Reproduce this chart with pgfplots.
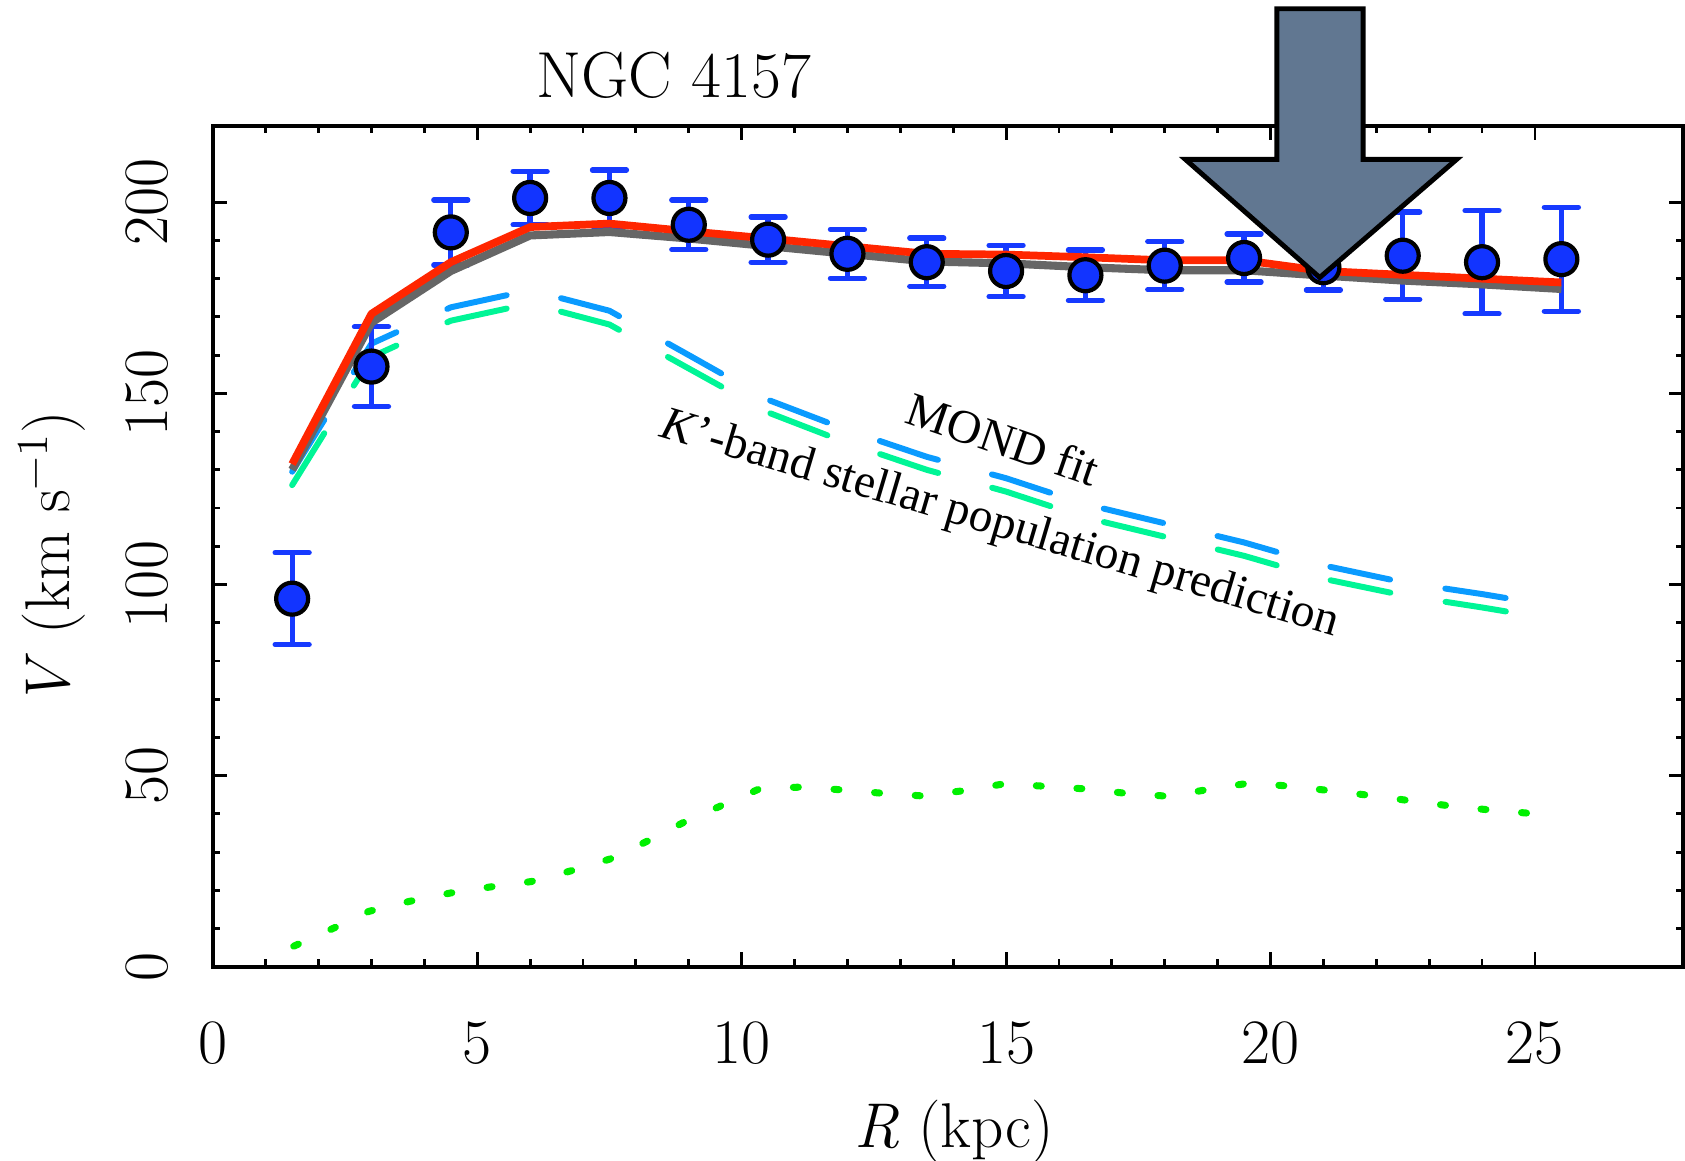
\documentclass[border=0pt]{standalone}
\usepackage{fontspec}
\usepackage{pgfplots}
\pgfplotsset{compat=1.18}
\newfontfamily\annfont{Liberation Serif}
\definecolor{ptblue}{RGB}{18,52,255}
\definecolor{errblue}{RGB}{22,58,255}
\definecolor{mondred}{RGB}{255,38,0}
\definecolor{newtgray}{RGB}{102,102,102}
\definecolor{dashblue}{RGB}{10,155,255}
\definecolor{dashgreen}{RGB}{0,245,150}
\definecolor{dotgreen}{RGB}{0,240,0}
\definecolor{arrowfill}{RGB}{97,119,145}
\begin{document}
\begin{tikzpicture}
\begin{axis}[
  scale only axis, width=147mm, height=84.1mm,
  xmin=0, xmax=27.8, ymin=0, ymax=220,
  axis line style={line width=1.1pt},
  xtick={0,5,...,25}, minor x tick num=4,
  ytick={0,50,...,200}, minor y tick num=4,
  major tick length=1.45mm, minor tick length=0.75mm,
  tick style={black, line width=0.8pt},
  tick align=inside,
  /pgf/number format/assume math mode=true,
  tick label style={font=\fontsize{18}{20}\selectfont},
  xticklabel style={anchor=north, inner sep=0pt},
  xticklabel shift=5.4mm,
  yticklabel style={rotate=90, anchor=south, inner sep=0pt},
  yticklabel shift=4.4mm,
  xlabel={\textit{R} (kpc)},
  ylabel={\textit{V} (km s\textsuperscript{−1})},
  every axis x label/.style={at={(axis description cs:0.504,0)}, anchor=base, yshift=-18.05mm, inner sep=0pt, font=\fontsize{18}{20}\selectfont},
  every axis y label/.style={at={(axis description cs:0,0.485)}, xshift=-14.3mm, rotate=90, anchor=base, inner sep=0pt, font=\fontsize{18}{20}\selectfont},
  clip=false,
]
% K'-band prediction (two dashed curves)
\addplot[dashblue, line width=1.7pt, line cap=round, dash pattern=on 6.1mm off 5.6mm] coordinates {
 (1.5,129.5) (3,163) (4.5,172.5) (6,177) (7.5,171.6) (9,160) (10.5,148.3) (12,140.4) (13.5,133.4) (15,127.8) (16.5,121) (18,116) (19.5,111) (21,105) (22.5,100.6) (24,97.5) (25.3,94.5)};
\addplot[dashgreen, line width=1.7pt, line cap=round, dash pattern=on 6.1mm off 5.6mm] coordinates {
 (1.5,126) (3,159.5) (4.5,169) (6,173.5) (7.5,168) (9,156.5) (10.5,145) (12,137) (13.5,130) (15,124.3) (16.5,117.5) (18,112.5) (19.5,107.5) (21,101.5) (22.5,97.2) (24,94) (25.3,91)};
% dotted gas curve
\addplot[dotgreen, line width=2pt, line cap=round, dash pattern=on 0.5mm off 3.57mm] coordinates {
 (1.53,5.4) (2.25,9.9) (2.95,14.5) (3.71,17.1) (4.49,19.3) (5.25,20.9) (6.02,22.3) (6.77,25.1) (7.51,28.2) (8.22,32.9) (8.92,37.9) (9.64,42.3) (10.36,46.7) (11.12,47.0) (11.89,46.3) (12.66,45.4) (13.42,44.7) (14.21,46.1) (14.98,47.9) (15.76,47.2) (16.54,46.5) (17.32,45.3) (18.09,44.6) (18.86,46.5) (19.62,48.1) (20.40,47.2) (21.18,46.0) (21.96,44.7) (22.72,43.3) (23.50,41.9) (24.25,40.9) (25.04,40.0) (25.3,39.8)};
% data
\addplot[only marks, mark=*, mark size=1.6mm, mark options={fill=ptblue, draw=black, line width=1.2pt},
  error bars/.cd, y dir=both, y explicit,
  error bar style={errblue, line width=1.5pt},
  error mark options={errblue, line width=1.5pt, mark size=1.7mm, rotate=90, line cap=round}]
 coordinates {
 (1.5,96.3) +- (0,12)
 (3,157) +- (0,10.4)
 (4.5,192.1) +- (0,8.5)
 (6,201.1) +- (0,7)
 (7.5,201.1) +- (0,7.3)
 (9,194.1) +- (0,6.5)
 (10.5,190.2) +- (0,5.9)
 (12,186.5) +- (0,6.4)
 (13.5,184.3) +- (0,6.3)
 (15,182) +- (0,6.7)
 (16.5,180.9) +- (0,6.6)
 (18,183.4) +- (0,6.3)
 (19.5,185.4) +- (0,6.3)
 (21,183) +- (0,6)
 (22.5,186) +- (0,11.4)
 (24,184.3) +- (0,13.5)
 (25.5,185.1) +- (0,13.6)
 };
% Newtonian total (gray) and MOND fit (red)
\addplot[newtgray, line width=2.3pt, line join=round] coordinates {
 (1.5,130) (3,168.5) (4.5,182) (6,191.3) (7.5,192.2) (9,190.5) (10.5,188.5) (12,186.5) (13.5,184.5) (15,184) (16.5,183) (18,182.2) (19.5,182.2) (21,180.8) (22.5,179.5) (24,178.5) (25.5,177.3)};
\addplot[mondred, line width=2.2pt, line join=round] coordinates {
 (1.5,131.5) (3,170.8) (4.5,184.3) (6,193.5) (7.5,194.4) (9,192.4) (10.5,190.5) (12,188.5) (13.5,186.5) (15,186.3) (16.5,185.6) (18,184.8) (19.5,184.8) (21,182) (22.5,181) (24,180) (25.5,179)};
% annotations
\node[rotate=-19, font=\annfont\fontsize{13.5}{15}\selectfont] at (axis cs:14.95,138.0) {MOND fit};
\node[rotate=-16.5, font=\annfont\fontsize{13.5}{15}\selectfont] at (axis cs:14.88,115.5) {\textit{K}’-band stellar population prediction};
\node[anchor=base, font=\fontsize{18.5}{20}\selectfont] at (axis cs:8.72,227.5) {NGC 4157};
% arrow corner coordinates
\coordinate (A1) at (axis cs:20.12,250.6);
\coordinate (A2) at (axis cs:21.75,250.6);
\coordinate (A3) at (axis cs:21.75,211.2);
\coordinate (A4) at (axis cs:23.52,211.2);
\coordinate (A5) at (axis cs:20.93,180.3);
\coordinate (A6) at (axis cs:18.39,211.2);
\coordinate (A7) at (axis cs:20.12,211.2);
\end{axis}
% big arrow, on top of everything
\draw[line width=1.4pt, fill=arrowfill, line join=miter] (A1) -- (A2) -- (A3) -- (A4) -- (A5) -- (A6) -- (A7) -- cycle;
\pgfresetboundingbox
\path ([shift={(-21.28mm,-19.34mm)}]current axis.south west) rectangle ([shift={(0.2mm,12.57mm)}]current axis.north east);
\end{tikzpicture}
\end{document}
